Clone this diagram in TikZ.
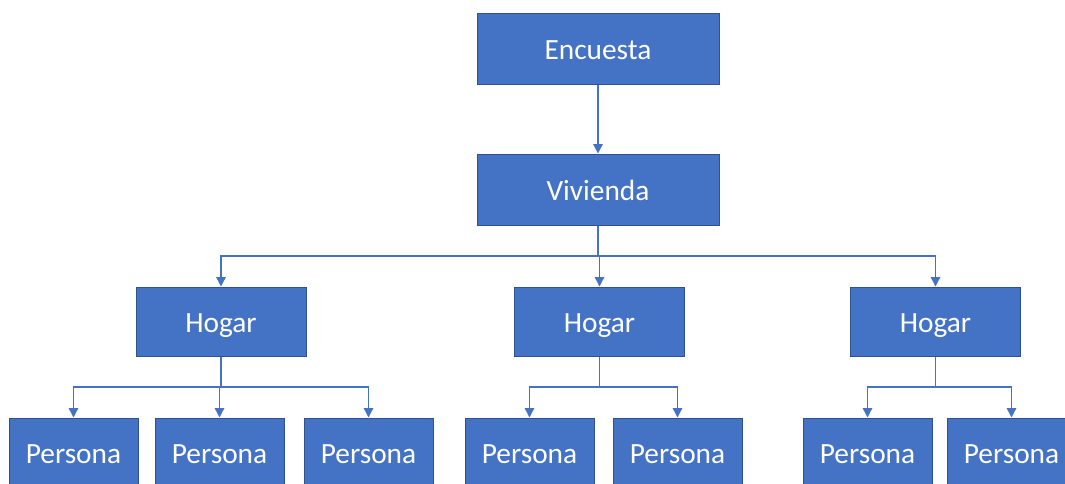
\documentclass[tikz,border=0pt]{standalone}
\usepackage{fontspec}
\setmainfont{Carlito}
\usetikzlibrary{arrows.meta}
\definecolor{boxblue}{RGB}{68,114,196}
\definecolor{boxedge}{RGB}{47,82,143}
\begin{document}
\begin{tikzpicture}[x=0.75pt,y=0.75pt,yscale=-1,xscale=1,
    box/.style={draw=boxedge, fill=boxblue, line width=0.75pt, inner sep=0pt,
      text=white, font=\fontsize{22}{26}\selectfont, text height=16pt, text depth=0pt},
    bigbox/.style={box, minimum width=181.5pt, minimum height=53.25pt},
    hogbox/.style={box, minimum width=127.5pt, minimum height=51.75pt},
    perbox/.style={box, minimum width=96.75pt, minimum height=51.75pt},
    link/.style={draw=boxblue, line width=1pt, -{Triangle[width=7pt,length=7pt]}}]
\useasboundingbox (0,0) rectangle (1065,483);
\clip (0,0) rectangle (1065,483);
%Shape: Rectangle
\node [bigbox] (enc) at (598,48.5) {Encuesta};
\node [bigbox] (viv) at (598,189.5) {Vivienda};
%Shape: Rectangle
\node [hogbox] (hogA) at (221,321.5) {Hogar};
\node [hogbox] (hogB) at (599.5,321.5) {Hogar};
\node [hogbox] (hogC) at (935.5,321.5) {Hogar};
%Shape: Rectangle
\node [perbox] (perA1) at (73.5,452.5) {Persona};
\node [perbox] (perA2) at (219.5,452.5) {Persona};
\node [perbox] (perA3) at (368.5,452.5) {Persona};
\node [perbox] (perB1) at (529.5,452.5) {Persona};
\node [perbox] (perB2) at (677.5,452.5) {Persona};
\node [perbox] (perC1) at (867.5,452.5) {Persona};
\node [perbox] (perC2) at (1011.5,452.5) {Persona};
%Straight Lines
\draw [link] (enc) -- (viv);
\coordinate (vbus) at (598,256);
\draw [link] (viv.south) -- (vbus) -| (hogA.north);
\draw [link] (viv.south) -- (vbus) -| (hogB.north);
\draw [link] (viv.south) -- (vbus) -| (hogC.north);
%Straight Lines
\coordinate (abus) at (221,387);
\draw [link] (hogA.south) -- (abus) -| (perA1.north);
\draw [link] (hogA.south) -- (abus) -| (perA2.north);
\draw [link] (hogA.south) -- (abus) -| (perA3.north);
\coordinate (bbus) at (599.5,387);
\draw [link] (hogB.south) -- (bbus) -| (perB1.north);
\draw [link] (hogB.south) -- (bbus) -| (perB2.north);
\coordinate (cbus) at (935.5,387);
\draw [link] (hogC.south) -- (cbus) -| (perC1.north);
\draw [link] (hogC.south) -- (cbus) -| (perC2.north);
\end{tikzpicture}
\end{document}
